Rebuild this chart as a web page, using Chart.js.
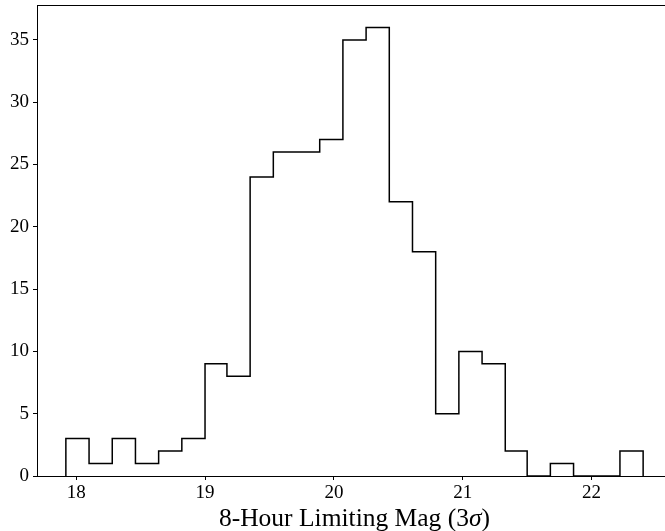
<!DOCTYPE html>
<html>
<head>
<meta charset="utf-8">
<script src="https://cdn.jsdelivr.net/npm/chart.js@4.4.0/dist/chart.umd.min.js"></script>
<style>
  html, body { margin: 0; padding: 0; background: #fff; overflow: hidden; }
  #wrap { width: 672px; height: 531px; }
</style>
</head>
<body>
<div id="wrap"><canvas id="hist"></canvas></div>
<script>
// bin edges (mag) and counts per bin
const binEdges = [17.92, 18.10, 18.28, 18.46, 18.64, 18.82, 19.00, 19.17, 19.35, 19.53,
  19.71, 19.89, 20.07, 20.25, 20.43, 20.61, 20.79, 20.97, 21.15, 21.33,
  21.50, 21.68, 21.86, 22.04, 22.22, 22.40];
const counts = [3, 1, 3, 1, 2, 3, 9, 8, 24, 26, 26, 27, 35, 36, 22, 18, 5, 10, 9, 2, 0, 1, 0, 0, 2];
const xTicks = [18, 19, 20, 21, 22];
const yTicks = [0, 5, 10, 15, 20, 25, 30, 35];

const serif = "'Liberation Serif', 'DejaVu Serif', serif";

// outline points for a step histogram
function stepPoints() {
  let pts = [{ x: binEdges[0], y: 0 }];
  for (let i = 0; i < counts.length; i++) {
    pts.push({ x: binEdges[i + 1], y: counts[i] });
  }
  pts.push({ x: binEdges[binEdges.length - 1], y: 0 });
  return pts;
}

// frame around the plot area + x label with italic sigma
const frame = {
  id: 'frame',
  afterDraw(chart) {
    const ctx = chart.ctx, a = chart.chartArea;
    ctx.save();
    ctx.strokeStyle = '#000';
    ctx.lineWidth = 1;
    ctx.strokeRect(a.left + 0.5, a.top + 0.5, a.right - a.left, a.bottom - a.top);

    const parts = [
      ['8-Hour Limiting Mag (3', '25.5px ' + serif],
      ['σ', 'italic 25.5px ' + serif],
      [')', '25.5px ' + serif]
    ];
    let total = 0;
    parts.forEach(p => { ctx.font = p[1]; total += ctx.measureText(p[0]).width; });
    let x = (a.left + a.right) / 2 - total / 2;
    ctx.fillStyle = '#000';
    ctx.textBaseline = 'alphabetic';
    parts.forEach(p => {
      ctx.font = p[1];
      ctx.fillText(p[0], x, 526);
      x += ctx.measureText(p[0]).width;
    });
    ctx.restore();
  }
};

new Chart(document.getElementById('hist').getContext('2d'), {
  type: 'line',
  data: {
    datasets: [{
      data: stepPoints(),
      stepped: 'after',
      borderColor: '#000',
      borderWidth: 1.5,
      pointRadius: 0,
      fill: false
    }]
  },
  options: {
    responsive: true,
    maintainAspectRatio: false,
    animation: false,
    layout: { padding: { top: 5, right: 0, left: 0, bottom: 0 } },
    plugins: { legend: { display: false }, tooltip: { enabled: false } },
    scales: {
      x: {
        type: 'linear',
        min: 17.696,
        max: 22.624,
        afterFit(s) { s.height = 55; s.paddingLeft = 0; s.paddingRight = 0; },
        afterBuildTicks(s) { s.ticks = xTicks.map(v => ({ value: v })); },
        grid: { drawOnChartArea: false, drawTicks: true, tickLength: 4, color: '#000' },
        border: { display: true, color: '#000', width: 1 },
        ticks: { color: '#000', font: { family: serif, size: 19 }, padding: 2, maxRotation: 0 }
      },
      y: {
        min: 0,
        max: 37.8,
        afterFit(s) { s.width = 37; s.paddingTop = 0; s.paddingBottom = 0; },
        afterBuildTicks(s) { s.ticks = yTicks.map(v => ({ value: v })); },
        grid: { drawOnChartArea: false, drawTicks: true, tickLength: 4, color: '#000' },
        border: { display: true, color: '#000', width: 1 },
        ticks: { color: '#000', font: { family: serif, size: 19 }, padding: 4 }
      }
    }
  },
  plugins: [frame]
});
</script>
</body>
</html>
